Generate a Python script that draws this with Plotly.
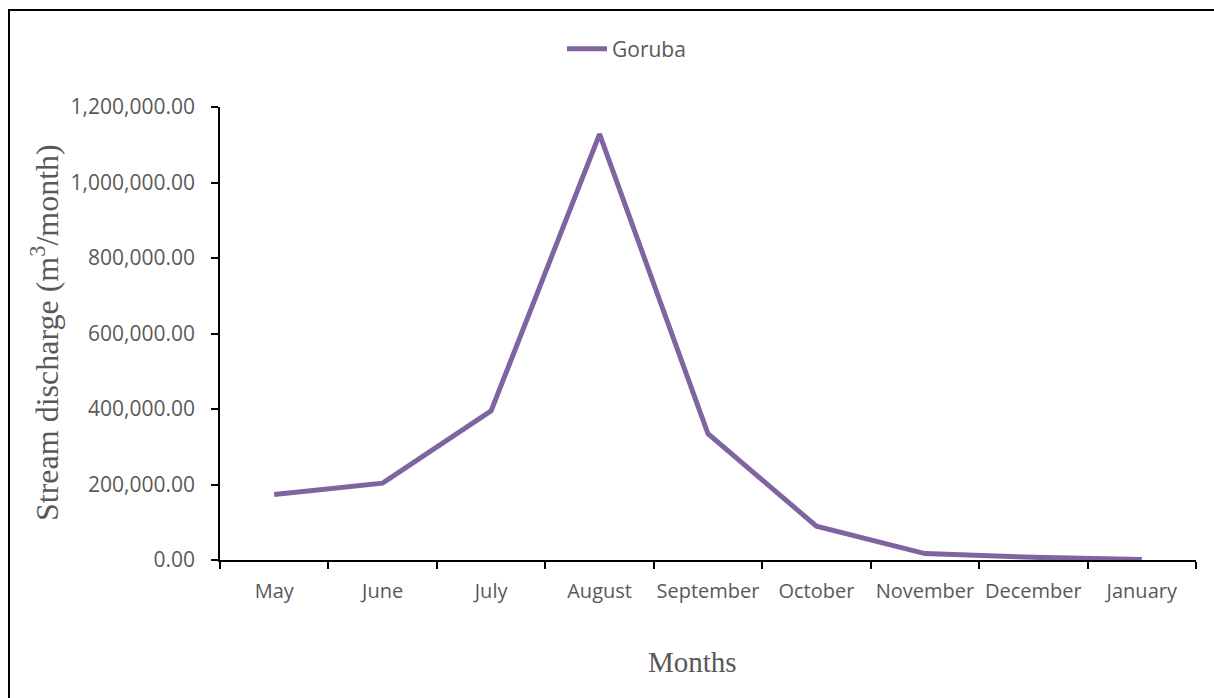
import plotly.graph_objects as go

months = ["May", "June", "July", "August", "September", "October", "November", "December", "January"]
goruba = [173500, 203500, 395000, 1128000, 334500, 89500, 17000, 7000, 1000]
y_ticks = [0, 200000, 400000, 600000, 800000, 1000000, 1200000]

W, H = 1214, 698
L, R, T, B = 220, 18, 107, 138
pw, ph = W - L - R, H - T - B

def px_x(p):
    return (p - L) / pw

def px_y(p):
    return (H - B - p) / ph

tick_font = dict(family="Open Sans", size=21, color="#595959")
xtick_font = dict(family="Open Sans", size=20, color="#595959")

fig = go.Figure()
fig.add_trace(go.Scatter(
    x=months, y=goruba, mode="lines", name="Goruba",
    line=dict(color="#8064A2", width=5),
))

fig.update_layout(
    width=W, height=H,
    margin=dict(l=L, r=R, t=T, b=B, pad=0, autoexpand=False),
    paper_bgcolor="white", plot_bgcolor="white",
    showlegend=True,
    legend=dict(orientation="h", x=px_x(562), y=px_y(49), xanchor="left", yanchor="middle",
                font=tick_font, bgcolor="rgba(0,0,0,0)", itemwidth=40),
    xaxis=dict(
        type="category", tickson="boundaries", ticks="outside", ticklen=7, tickwidth=1.5,
        tickcolor="black", showline=True, linecolor="black", linewidth=1.5,
        showgrid=False, zeroline=False, tickfont=xtick_font, range=[-0.5, 8.5],
        ticklabelstandoff=12, tickangle=0, automargin=False,
    ),
    yaxis=dict(
        range=[0, 1200000], tickvals=y_ticks, tickformat=",.2f", ticks="outside",
        ticklen=7, tickwidth=1.5, tickcolor="black", showline=True, linecolor="black",
        linewidth=1.5, showgrid=False, zeroline=False, tickfont=tick_font,
        ticklabelstandoff=12, automargin=False,
    ),
    annotations=[
        dict(text="Months", xref="paper", yref="paper", x=px_x(692), y=px_y(662),
             xanchor="center", yanchor="middle", showarrow=False,
             font=dict(family="Liberation Serif", size=29, color="#595959")),
        dict(text="Stream discharge (m<sup>3</sup>/month)", xref="paper", yref="paper",
             x=px_x(45), y=px_y(333), xanchor="center", yanchor="middle", showarrow=False,
             textangle=-90,
             font=dict(family="Liberation Serif", size=32, color="#595959")),
    ],
    shapes=[
        dict(type="rect", xref="paper", yref="paper", x0=px_x(9), x1=px_x(1230),
             y0=px_y(715), y1=px_y(10), line=dict(color="black", width=2), layer="below"),
    ],
)

fig.write_html("out.html")
